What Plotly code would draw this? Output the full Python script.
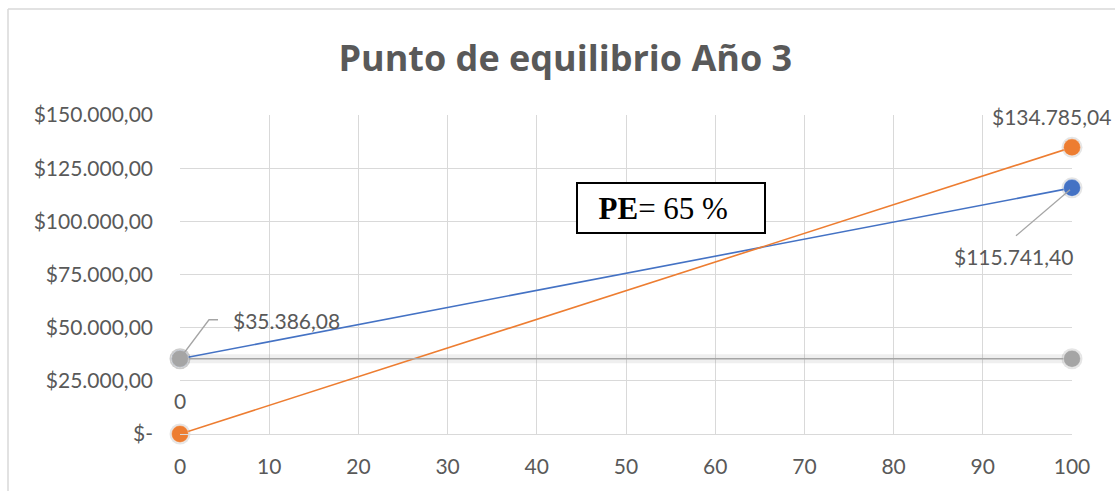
import plotly.graph_objects as go

# Break-even data, year 3
unidades = [0, 100]
costo_fijo = [35386.08, 35386.08]
costo_total = [35386.08, 115741.40]
ingresos = [0, 134785.04]

y_ticks = [0, 25000, 50000, 75000, 100000, 125000, 150000]
y_tick_text = ["$-", "$25.000,00", "$50.000,00", "$75.000,00",
               "$100.000,00", "$125.000,00", "$150.000,00"]
x_ticks = list(range(0, 101, 10))

titulo = "Punto de equilibrio Año 3"
pe_texto = "<b>PE</b>= 65 %"

AZUL = "#4472C4"
NARANJA = "#ED7D31"
GRIS = "#A5A5A5"
TEXTO = "#595959"
REJILLA = "#D9D9D9"
FUENTE = "Lato, 'Open Sans', sans-serif"


def fmt(v):
    s = f"{v:,.2f}"
    return "$" + s.replace(",", "X").replace(".", ",").replace("X", ".")


fig = go.Figure()

# soft shadow under the fixed-cost line
fig.add_trace(go.Scatter(
    x=unidades, y=costo_fijo, mode="lines",
    line=dict(color="rgba(120,120,120,0.12)", width=9),
    hoverinfo="skip", showlegend=False))

series = [
    ("Costo total", costo_total, AZUL),
    ("Ingresos", ingresos, NARANJA),
    ("Costo fijo", costo_fijo, GRIS),
]
for nombre, ys, color in series:
    # marker shadow
    fig.add_trace(go.Scatter(
        x=unidades, y=ys, mode="markers",
        marker=dict(size=21, color="rgba(0,0,0,0.10)", line=dict(width=0)),
        hoverinfo="skip", showlegend=False))
    fig.add_trace(go.Scatter(
        x=unidades, y=ys, mode="lines+markers", name=nombre,
        line=dict(color=color, width=1.6),
        marker=dict(size=17, color=color,
                    line=dict(color="rgba(255,255,255,0.35)", width=1)),
        showlegend=False))

lab_font = dict(family=FUENTE, size=21, color=TEXTO)
annotations = [
    dict(x=unidades[1], y=ingresos[1], text=fmt(ingresos[1]),
         showarrow=False, yshift=31, xshift=-21),
    dict(x=unidades[0], y=ingresos[0], text="0",
         showarrow=False, yshift=34),
    dict(x=unidades[1], y=costo_total[1], text=fmt(costo_total[1]),
         showarrow=False, yshift=-69, xshift=-59),
    dict(x=unidades[0], y=costo_fijo[0], text=fmt(costo_fijo[0]),
         showarrow=False, yshift=38, xshift=106),
]
for a in annotations:
    a.update(xref="x", yref="y", font=lab_font)

# break-even box
annotations.append(dict(
    x=(671 - 180) / 892, y=(434 - 208) / 319, xref="paper", yref="paper",
    xanchor="center", yanchor="middle",
    text="&nbsp;&nbsp;" + pe_texto, showarrow=False, align="left",
    font=dict(family="Liberation Serif", size=31, color="black"),
    bordercolor="black", borderwidth=2, borderpad=5, bgcolor="white",
    width=176, height=38))

top_y = (434 - 9) / 319
left_x = (8 - 180) / 892
shapes = [
    # leader lines for data labels
    dict(type="path", xref="x", yref="y", xsizemode="pixel", ysizemode="pixel",
         xanchor=unidades[0], yanchor=costo_fijo[0],
         path="M 2,3 L 29,39 L 38,39", line=dict(color=GRIS, width=1.3)),
    dict(type="path", xref="x", yref="y", xsizemode="pixel", ysizemode="pixel",
         xanchor=unidades[1], yanchor=costo_total[1],
         path="M -2,-2 L -56,-48", line=dict(color=GRIS, width=1.3)),
    # chart-area border (top and left edges)
    dict(type="line", xref="paper", yref="paper",
         x0=left_x, x1=1.2, y0=top_y, y1=top_y,
         line=dict(color=REJILLA, width=1.5)),
    dict(type="line", xref="paper", yref="paper",
         x0=left_x, x1=left_x, y0=top_y, y1=-0.3,
         line=dict(color=REJILLA, width=1.5)),
]

fig.update_layout(
    width=1115, height=491,
    margin=dict(l=180, r=43, t=115, b=57),
    paper_bgcolor="white", plot_bgcolor="white",
    title=dict(text=f"<b>{titulo}</b>", x=0.507, xanchor="center",
               y=0.882, yanchor="middle",
               font=dict(family="'Open Sans', sans-serif", size=36, color=TEXTO)),
    xaxis=dict(range=[0, 100], tickvals=x_ticks, showgrid=True,
               gridcolor=REJILLA, gridwidth=1.3, zeroline=False,
               showline=True, linecolor=REJILLA, linewidth=1.3,
               ticks="", ticklabelstandoff=14,
               tickfont=dict(family=FUENTE, size=21, color=TEXTO),
               automargin=False),
    yaxis=dict(range=[0, 150000], tickvals=y_ticks, ticktext=y_tick_text,
               showgrid=True, gridcolor=REJILLA, gridwidth=1.3, zeroline=False,
               showline=False, ticks="", ticklabelstandoff=26,
               tickfont=dict(family=FUENTE, size=21, color=TEXTO),
               automargin=False),
    annotations=annotations,
    shapes=shapes,
    showlegend=False,
)
for tr in fig.data:
    tr.cliponaxis = False

fig.write_html("out.html")
